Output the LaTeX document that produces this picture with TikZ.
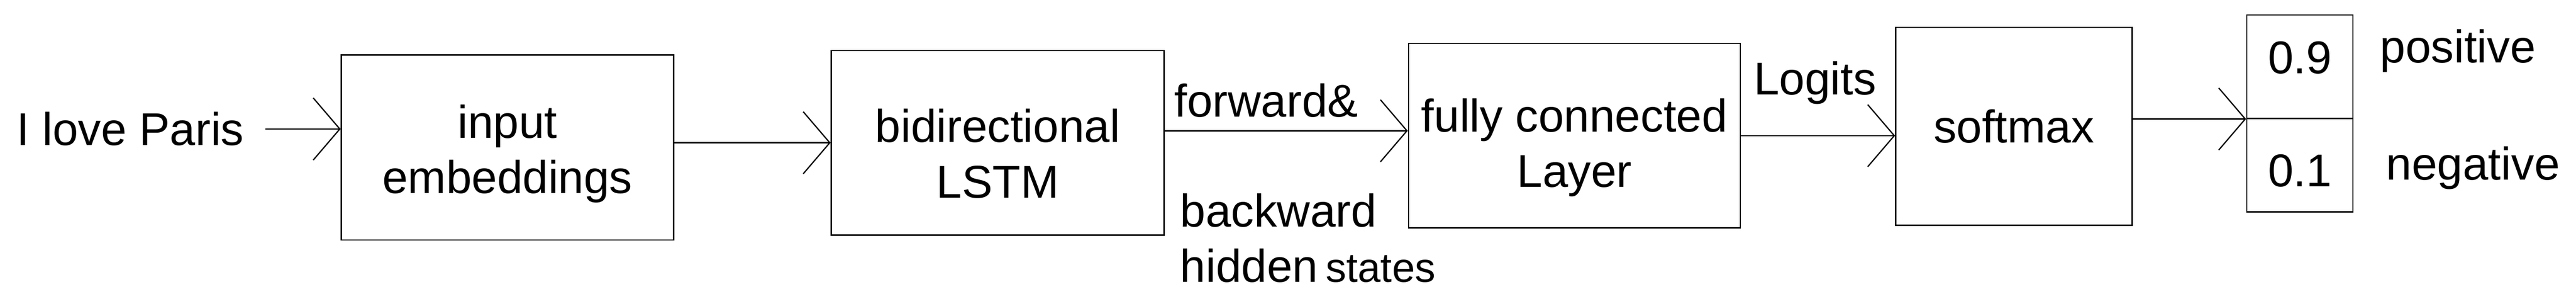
\documentclass[tikz,border=0pt]{standalone}
\usepackage{fontspec}
\setmainfont{Liberation Sans}
\usetikzlibrary{arrows.meta,positioning}

\begin{document}
\begin{tikzpicture}[
    font=\fontsize{29.5}{35.6}\selectfont,
    line width=0.8pt,
    block/.style={rectangle, draw, align=center, inner sep=0pt},
    tag/.style={inner sep=0pt, anchor=base west},
    arr/.style={-{Straight Barb[length=0.6cm, width=1.4cm]}}
]
    \useasboundingbox (0,0) rectangle (58.2,6.85);

    % Input sentence
    \node[tag] (paris) at (0.37,3.57) {I love Paris};

    % Processing blocks
    \node[block, minimum width=7.51cm, minimum height=4.17cm, text height=2.29cm, text depth=0.22cm] (embed) at (11.465,3.525) {input\\embeddings};
    \node[block, minimum width=7.52cm, minimum height=4.16cm, text height=2.53cm, text depth=0.05cm] (lstm) at (22.54,3.63) {bidirectional\\LSTM};
    \node[block, minimum width=7.50cm, minimum height=4.16cm, text height=2.54cm, text depth=0.22cm] (fc) at (35.57,3.79) {fully connected\\Layer};
    \node[block, minimum width=5.34cm, minimum height=4.46cm] (soft) at (45.50,4.00) {softmax};

    % Output probabilities
    \node[block, minimum width=2.40cm, minimum height=2.33cm, text height=0.745cm, text depth=0.435cm] (pos) at (51.96,5.345) {0.9};
    \node[block, minimum width=2.40cm, minimum height=2.11cm, text height=0.97cm, text depth=0cm] (neg) at (51.96,3.125) {0.1};

    % Labels
    \node[tag] (fwd) at (26.52,4.21) {forward\&};
    \node[tag, anchor=north west, align=left] (bwd) at (26.65,2.50) {backward\\hidden\,{\fontsize{26.5}{30}\selectfont states}};
    \node[tag] (logits) at (39.61,4.71) {Logits};
    \node[tag] (posl) at (53.76,5.44) {positive};
    \node[tag] (negl) at (53.90,2.79) {negative};

    \coordinate (fcin) at ([yshift=0.11cm]fc.west);

    % Arrows
    \draw[arr] ([xshift=0.47cm]paris.east) -- (paris.east -| embed.west);
    \draw[arr] (embed.east |- lstm.west) -- (lstm.west);
    \draw[arr] (lstm.east |- fcin) -- (fcin);
    \draw[arr] (fc.east) -- (fc.east -| soft.west);
    \draw[arr] (soft.east |- pos.south west) -- (pos.south west);
\end{tikzpicture}
\end{document}
